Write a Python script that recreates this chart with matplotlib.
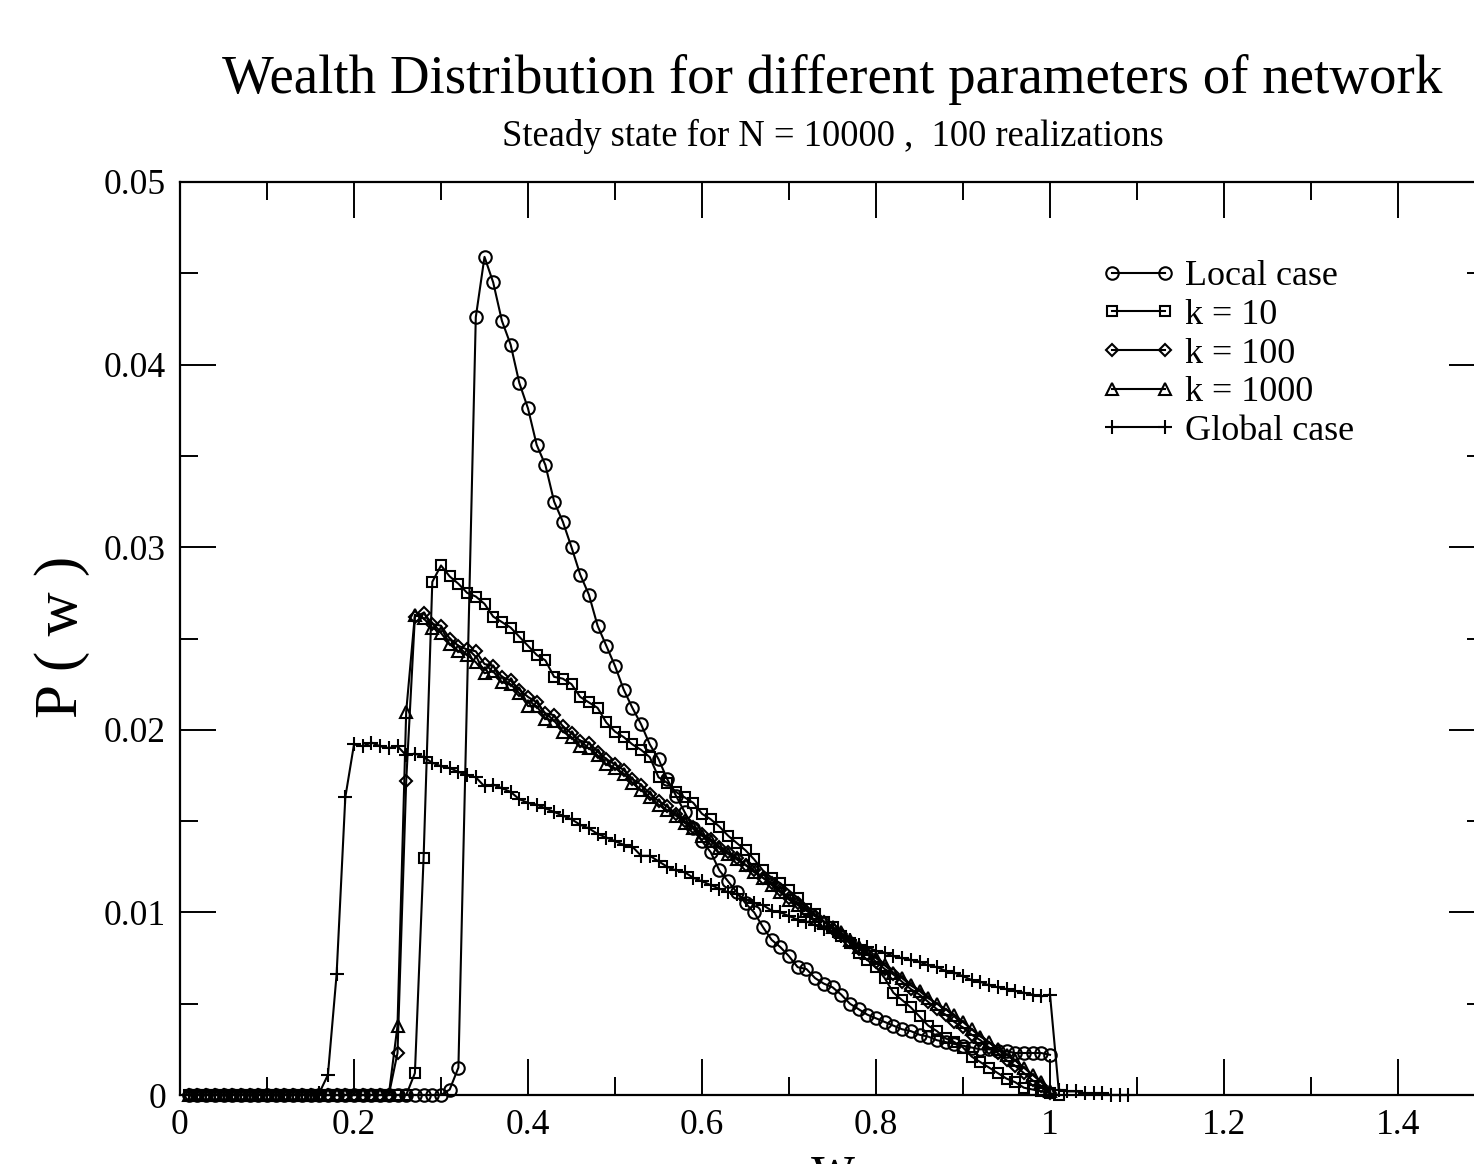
import numpy as np
import matplotlib
matplotlib.use("Agg")
import matplotlib.pyplot as plt
from matplotlib.ticker import MultipleLocator

plt.rcParams['font.family'] = ['Liberation Serif', 'DejaVu Serif']
plt.rcParams['mathtext.fontset'] = 'stix'

title = "Wealth Distribution for different parameters of network"
subtitle = "Steady state for N = 10000 ,  100 realizations"
xlabel = "w"
ylabel = "P ( w )"

x_ticks = [0, 0.2, 0.4, 0.6, 0.8, 1.0, 1.2, 1.4]
x_tick_labels = ["0", "0.2", "0.4", "0.6", "0.8", "1", "1.2", "1.4"]
y_ticks = [0, 0.01, 0.02, 0.03, 0.04, 0.05]
y_tick_labels = ["0", "0.01", "0.02", "0.03", "0.04", "0.05"]

# wealth grid (bin centres, step 0.01)
w_grid = [round(0.01 * i, 2) for i in range(1, 110)]

# Local case (0.01 .. 0.32, then 0.34 .. 1.00)
local_w = w_grid[:32] + w_grid[33:100]
local_p = [0, 0, 0, 0, 0, 0, 0, 0, 0, 0,
           0, 0, 0, 0, 0, 0, 0, 0, 0, 0,
           0, 0, 0, 0, 0, 0, 0, 0, 0, 0,
           0.0003, 0.0015,
           0.0426, 0.0459, 0.0445, 0.0424, 0.0411, 0.0390, 0.0376, 0.0356,
           0.0345, 0.0325, 0.0314, 0.0300, 0.0285, 0.0274, 0.0257, 0.0246,
           0.0235, 0.0222, 0.0212, 0.0203, 0.0192, 0.0184, 0.0173, 0.0164,
           0.0155, 0.0146, 0.0139, 0.0133, 0.0123, 0.0117, 0.0111, 0.0105,
           0.0100, 0.0092, 0.0085, 0.0081, 0.0076, 0.0070, 0.0069, 0.0064,
           0.0061, 0.0059, 0.0055, 0.0050, 0.0047, 0.0044, 0.0042, 0.0040,
           0.0038, 0.0036, 0.0035, 0.0033, 0.0032, 0.0030, 0.0029, 0.0028,
           0.0027, 0.0026, 0.0025, 0.0025, 0.0024, 0.0024, 0.0023, 0.0023,
           0.0023, 0.0023, 0.0022]

# k = 10 (0.01 .. 1.01)
k10_p = [0, 0, 0, 0, 0, 0, 0, 0, 0, 0,
         0, 0, 0, 0, 0, 0, 0, 0, 0, 0,
         0, 0, 0, 0, 0, 0,
         0.0012, 0.0130, 0.0281, 0.0290, 0.0284, 0.0280, 0.0275, 0.0273,
         0.0269, 0.0262, 0.0259, 0.0256, 0.0251, 0.0246, 0.0241, 0.0238,
         0.0229, 0.0228, 0.0225, 0.0218, 0.0215, 0.0212, 0.0204, 0.0199,
         0.0196, 0.0192, 0.0189, 0.0185, 0.0174, 0.0171, 0.0166, 0.0163,
         0.0160, 0.0154, 0.0151, 0.0147, 0.0142, 0.0138, 0.0134, 0.0129,
         0.0123, 0.0119, 0.0116, 0.0112, 0.0108, 0.0102, 0.0099, 0.0095,
         0.0092, 0.0087, 0.0083, 0.0078, 0.0074, 0.0070, 0.0064, 0.0056,
         0.0052, 0.0048, 0.0043, 0.0038, 0.0035, 0.0031, 0.0029, 0.0026,
         0.0021, 0.0018, 0.0015, 0.0012, 0.0009, 0.0007, 0.0004, 0.0003,
         0.0002, 0.0001, 0.0000]

# k = 100 (0.01 .. 1.00)
k100_p = [0, 0, 0, 0, 0, 0, 0, 0, 0, 0,
          0, 0, 0, 0, 0, 0, 0, 0, 0, 0,
          0, 0, 0, 0,
          0.0023, 0.0172, 0.0262, 0.0264, 0.0258, 0.0257, 0.0250, 0.0246,
          0.0244, 0.0243, 0.0236, 0.0235, 0.0229, 0.0227, 0.0222, 0.0218,
          0.0215, 0.0209, 0.0208, 0.0202, 0.0198, 0.0194, 0.0193, 0.0188,
          0.0184, 0.0181, 0.0178, 0.0173, 0.0170, 0.0165, 0.0161, 0.0158,
          0.0154, 0.0150, 0.0147, 0.0143, 0.0140, 0.0136, 0.0133, 0.0130,
          0.0126, 0.0123, 0.0119, 0.0116, 0.0112, 0.0108, 0.0105, 0.0101,
          0.0098, 0.0095, 0.0091, 0.0088, 0.0084, 0.0080, 0.0077, 0.0073,
          0.0069, 0.0066, 0.0062, 0.0058, 0.0055, 0.0051, 0.0047, 0.0044,
          0.0040, 0.0037, 0.0033, 0.0030, 0.0026, 0.0023, 0.0019, 0.0016,
          0.0012, 0.0008, 0.0005, 0.0001]

# k = 1000 (0.01 .. 1.00)
k1000_p = [0, 0, 0, 0, 0, 0, 0, 0, 0, 0,
           0, 0, 0, 0, 0, 0, 0, 0, 0, 0,
           0, 0, 0, 0,
           0.0038, 0.0210, 0.0263, 0.0261, 0.0256, 0.0253, 0.0247, 0.0243,
           0.0241, 0.0237, 0.0231, 0.0232, 0.0226, 0.0225, 0.0220, 0.0213,
           0.0213, 0.0206, 0.0205, 0.0199, 0.0196, 0.0191, 0.0190, 0.0186,
           0.0181, 0.0179, 0.0176, 0.0171, 0.0167, 0.0163, 0.0159, 0.0156,
           0.0153, 0.0149, 0.0146, 0.0142, 0.0139, 0.0135, 0.0132, 0.0129,
           0.0126, 0.0122, 0.0119, 0.0115, 0.0111, 0.0107, 0.0104, 0.0101,
           0.0098, 0.0095, 0.0092, 0.0089, 0.0085, 0.0081, 0.0078, 0.0075,
           0.0071, 0.0067, 0.0064, 0.0060, 0.0057, 0.0053, 0.0050, 0.0047,
           0.0044, 0.0040, 0.0036, 0.0032, 0.0029, 0.0025, 0.0022, 0.0019,
           0.0015, 0.0011, 0.0007, 0.0002]

# Global case (0.01 .. 1.09)
global_p = [0, 0, 0, 0, 0, 0, 0, 0, 0, 0,
            0, 0, 0, 0, 0, 0.0001,
            0.0011, 0.0066, 0.0163, 0.0192, 0.0191, 0.0193, 0.0191, 0.0190,
            0.0191, 0.0186, 0.0187, 0.0185, 0.0182, 0.0180, 0.0179, 0.0177,
            0.0175, 0.0174, 0.0169, 0.0170, 0.0168, 0.0166, 0.0162, 0.0160,
            0.0159, 0.0157, 0.0155, 0.0153, 0.0151, 0.0148, 0.0146, 0.0143,
            0.0141, 0.0139, 0.0137, 0.0136, 0.0131, 0.0131, 0.0128, 0.0125,
            0.0123, 0.0122, 0.0119, 0.0117, 0.0115, 0.0113, 0.0111, 0.0110,
            0.0107, 0.0105, 0.0104, 0.0101, 0.0100, 0.0098, 0.0096, 0.0095,
            0.0093, 0.0091, 0.0090, 0.0087, 0.0085, 0.0082, 0.0081, 0.0079,
            0.0078, 0.0076, 0.0075, 0.0074, 0.0073, 0.0071, 0.0070, 0.0068,
            0.0067, 0.0065, 0.0063, 0.0062, 0.0060, 0.0059, 0.0058, 0.0057,
            0.0056, 0.0055, 0.0054, 0.0055,
            0.0003, 0.0002, 0.0002, 0.0001, 0.0001, 0.0001, 0.0000, 0.0000,
            0.0000]

series = [
    ("Local case", local_w, local_p, 'o', 9.0),
    ("k = 10", w_grid[:len(k10_p)], k10_p, 's', 7.5),
    ("k = 100", w_grid[:len(k100_p)], k100_p, 'D', 6.0),
    ("k = 1000", w_grid[:len(k1000_p)], k1000_p, '^', 8.5),
    ("Global case", w_grid[:len(global_p)], global_p, '+', 10.0),
]

W, H = 1474, 1164
fig = plt.figure(figsize=(W / 100, H / 100), dpi=100)
ax_left, ax_right, ax_top, ax_bottom = 180, 1485, 182, 1095
ax = fig.add_axes([ax_left / W, (H - ax_bottom) / H,
                   (ax_right - ax_left) / W, (ax_bottom - ax_top) / H])

for label, w, p, m, ms in series:
    ax.plot(w, p, color='black', lw=1.5, marker=m, markersize=ms,
            markerfacecolor='none', markeredgecolor='black',
            markeredgewidth=1.5, label=label, clip_on=False)

ax.set_xlim(0, 1.5)
ax.set_ylim(0, 0.05)
ax.set_xticks(x_ticks)
ax.set_xticklabels(x_tick_labels)
ax.set_yticks(y_ticks)
ax.set_yticklabels(y_tick_labels)
ax.xaxis.set_minor_locator(MultipleLocator(0.1))
ax.yaxis.set_minor_locator(MultipleLocator(0.005))
ax.tick_params(which='both', direction='in', top=True, right=True,
               width=1.4, labelsize=25.5, colors='black')
ax.tick_params(which='major', length=26, pad=10)
ax.tick_params(which='minor', length=13)
for s in ax.spines.values():
    s.set_linewidth(1.6)

cx = (ax_left + ax_right) / 2 / W
fig.text(cx, 1 - 93 / H, title, ha='center', va='baseline', fontsize=39.5)
fig.text(cx, 1 - 146 / H, subtitle, ha='center', va='baseline', fontsize=26.3)
fig.text(62 / W, 1 - 637 / H, ylabel, rotation=90,
         ha='center', va='center', fontsize=44)
fig.text(cx, 1 - 1143 / H, xlabel, ha='center', va='top', fontsize=44)

leg = ax.legend(loc='upper left', bbox_to_anchor=(1101 / W, 1 - 260 / H),
                bbox_transform=fig.transFigure, frameon=False, fontsize=26,
                numpoints=2, handlelength=2.07, handletextpad=0.25,
                labelspacing=0.15, borderpad=0, borderaxespad=0)

fig.savefig("out.png", dpi=100, facecolor='white')
